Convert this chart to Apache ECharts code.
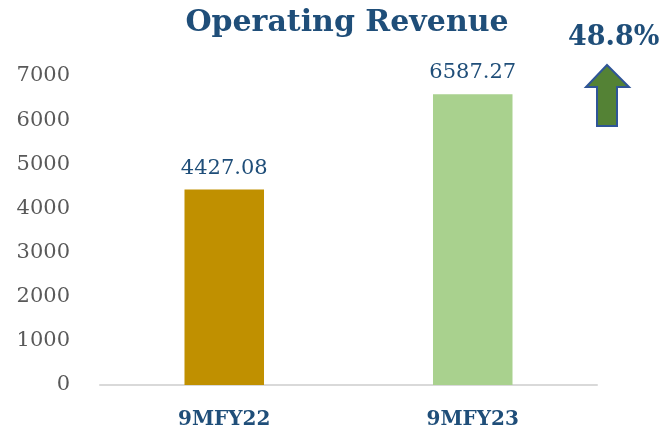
<!DOCTYPE html>
<html>
<head>
<meta charset="utf-8">
<script src="https://cdn.jsdelivr.net/npm/echarts@6/dist/echarts.min.js"></script>
<style>
  html, body { margin: 0; padding: 0; background: #fff; }
  #chart { width: 670px; height: 435px; }
</style>
</head>
<body>
<div id="chart"></div>
<script>
// data
const categories = ['9MFY22', '9MFY23']
const revenue = [4427.08, 6587.27]
const barColors = ['#C09000', '#A9D18E']
const growthText = '48.8%'

const serif = '"DejaVu Serif", "Liberation Serif", serif'
const blue = '#1F4E79'

const chart = echarts.init(document.getElementById('chart'))
chart.setOption({
  animation: false,
  title: {
    text: 'Operating Revenue',
    left: 342,
    textAlign: 'center',
    top: 3,
    textStyle: { fontFamily: serif, fontSize: 30, fontWeight: 'bold', color: blue },
  },
  grid: { left: 100, right: 73, top: 76, bottom: 50 },
  xAxis: {
    type: 'category',
    data: categories,
    axisLine: { lineStyle: { color: '#D9D9D9', width: 2 } },
    axisTick: { show: false },
    axisLabel: { margin: 25, fontFamily: serif, fontSize: 20, fontWeight: 'bold', color: blue },
  },
  yAxis: {
    type: 'value',
    min: 0,
    max: 7000,
    interval: 1000,
    splitLine: { show: false },
    axisLine: { show: false },
    axisLabel: {
      margin: 30,
      fontFamily: serif,
      fontSize: 21,
      color: '#595959',
      formatter: (v) => String(v),
    },
  },
  series: [
    {
      type: 'bar',
      barWidth: '32%',
      data: revenue.map((v, i) => ({ value: v, itemStyle: { color: barColors[i] } })),
      label: {
        show: true,
        position: 'top',
        distance: 11,
        fontFamily: serif,
        fontSize: 21,
        color: blue,
        formatter: (p) => p.value.toFixed(2),
      },
    },
  ],
  graphic: [
    {
      type: 'text',
      left: 568,
      top: 24,
      style: { text: growthText, font: 'bold 27px ' + serif, fill: blue },
    },
    {
      type: 'polygon',
      shape: {
        points: [[607, 65], [629, 87], [617, 87], [617, 126], [597, 126], [597, 87], [586, 87]],
      },
      style: { fill: '#548235', stroke: '#2F5597', lineWidth: 2 },
    },
  ],
})
</script>
</body>
</html>
